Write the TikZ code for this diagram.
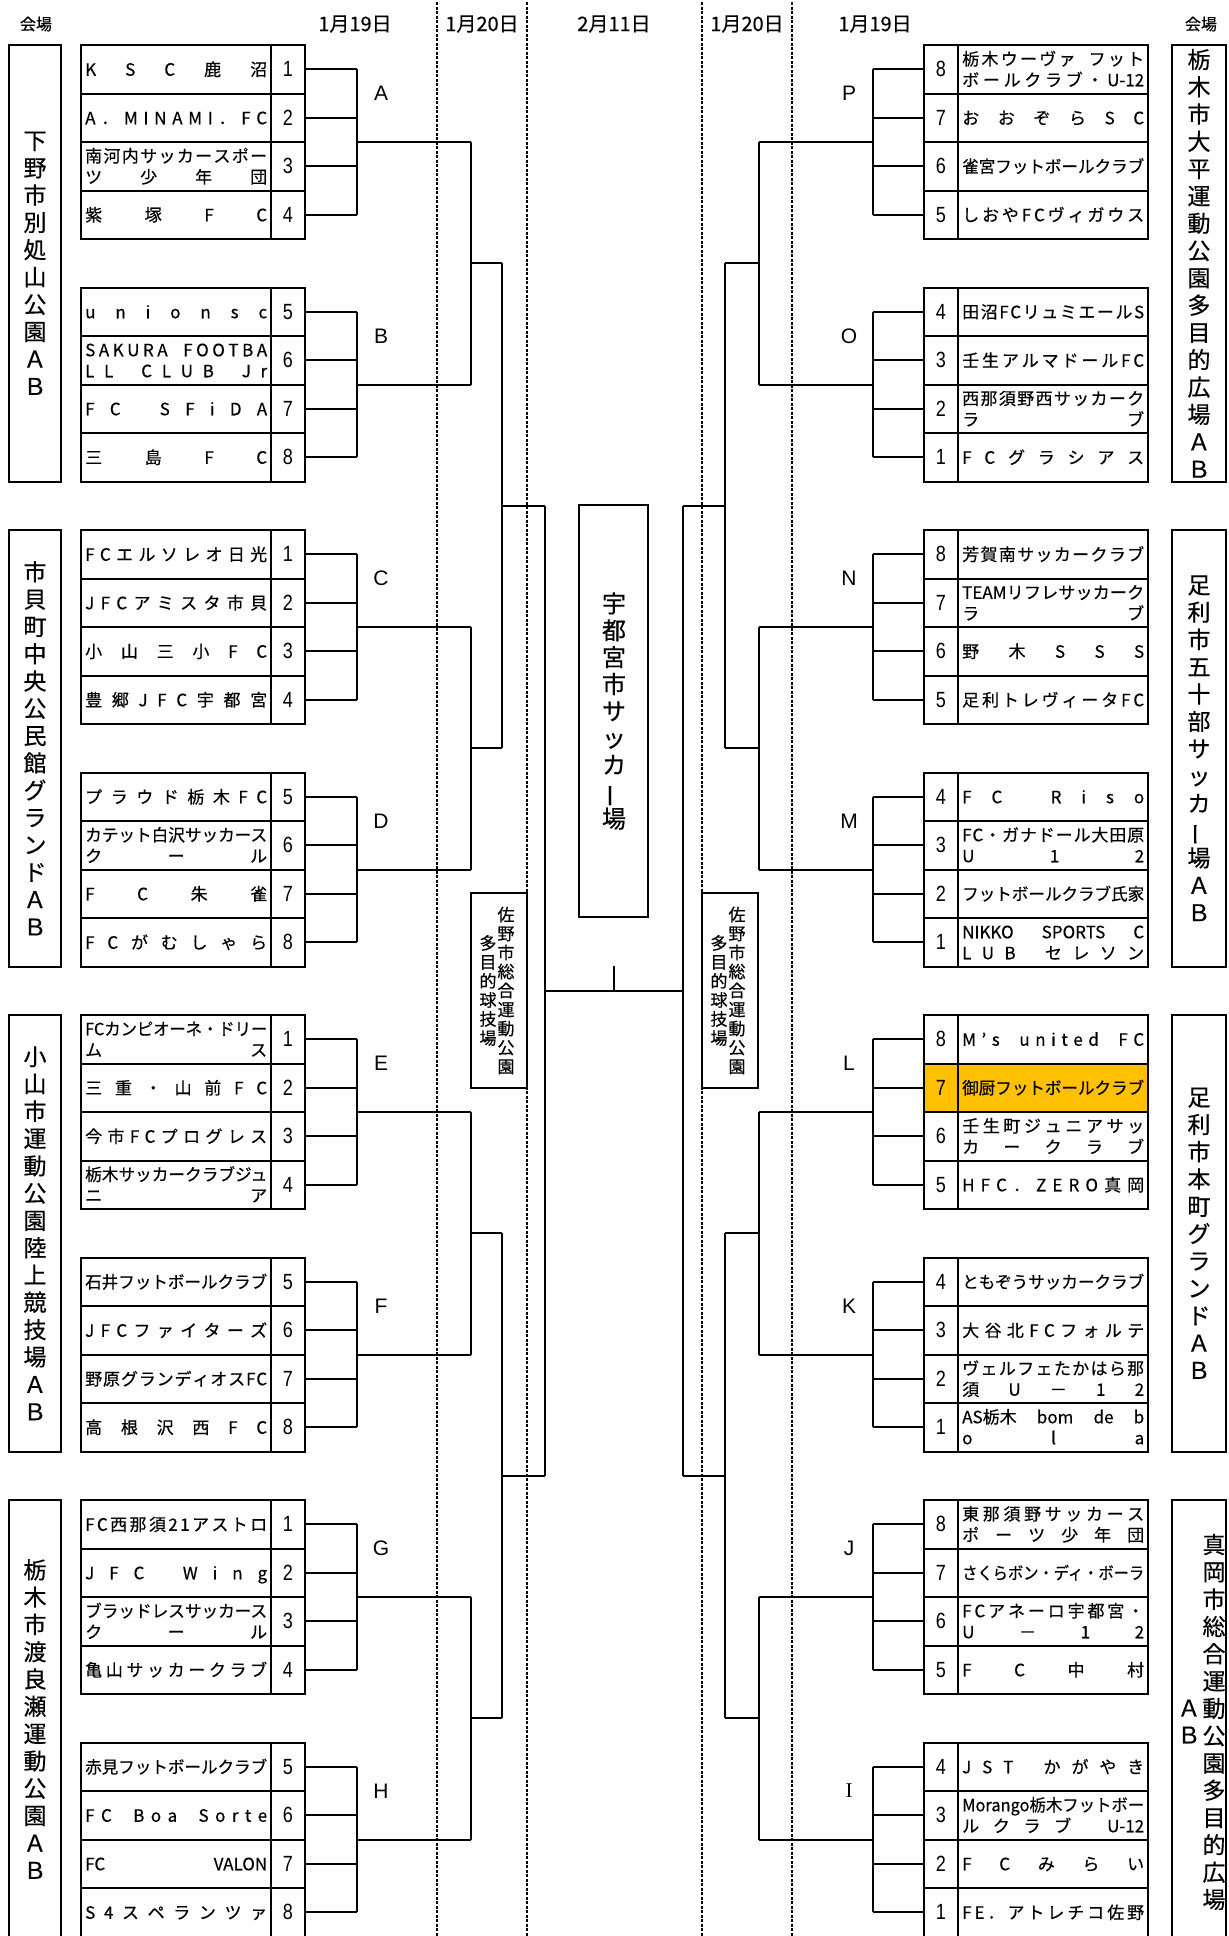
\documentclass[tikz,border=0pt]{standalone}
\usepackage{fontspec}
\usepackage{graphicx}
\setmainfont{Noto Sans CJK JP}[FakeBold=0.4]
\newfontfamily\arialf{Liberation Sans}
\newfontfamily\seriff{Liberation Serif}
\definecolor{hlc}{HTML}{FFC000}
\newbox\dlbox
\makeatletter
\newcommand\dline[2]{%
  \begingroup
  \def\dl@body{}\def\dl@nat{}%
  \@tfor\dl@t:=#2\do{%
    \ifx\dl@body\@empty
      \edef\dl@body{\unexpanded\expandafter{\dl@t}}%
    \else
      \edef\dl@body{\unexpanded\expandafter{\dl@body}\noexpand\hfill\unexpanded\expandafter{\dl@t}}%
    \fi
    \edef\dl@nat{\unexpanded\expandafter{\dl@nat}\unexpanded\expandafter{\dl@t}}%
  }%
  \setbox\dlbox\hbox{\dl@nat}%
  \ifdim\wd\dlbox>#1\relax
    \resizebox{#1}{\height}{\box\dlbox}%
  \else
    \hbox to #1{\dl@body}%
  \fi
  \endgroup
}
\makeatother
\newcommand\zs{\hbox to 0.5em{}}
\newcommand\vbar{\rotatebox[origin=c]{90}{ー}}
\tikzset{
  bx/.style={draw, line width=2pt},
  ln/.style={line width=2pt},
  dsh/.style={line width=1.2pt, dash pattern=on 3pt off 1.5pt},
  nm/.style={inner sep=0pt, anchor=west, font=\fontsize{17}{19}\selectfont, text height=15pt, text depth=2pt},
  num/.style={inner sep=0pt, font=\arialf\fontsize{22}{22}\selectfont},
  glab/.style={inner sep=0pt, font=\arialf\fontsize{21}{21}\selectfont},
  vtx/.style={inner sep=0pt, align=center, font=\fontsize{23}{27.3}\selectfont},
  stx/.style={inner sep=0pt, align=center, font=\fontsize{17}{19}\selectfont},
  ctx/.style={inner sep=0pt, align=center, font=\fontsize{24}{26.9}\selectfont},
  hdr/.style={inner sep=0pt, font=\fontsize{20}{20}\selectfont},
  hdrs/.style={inner sep=0pt, font=\fontsize{16}{16}\selectfont},
}
\newcommand\Lteam[4]{%
  \pgfmathsetmacro\yt{45+#1*48.5}%
  \pgfmathsetmacro\yc{\yt+24.25}%
  \draw[bx] (81,\yt) rectangle (271,\yt+48.5);
  \draw[bx] (271,\yt) rectangle (305,\yt+48.5);
  \node[num] (Ln#1) at (288,\yc) {\scalebox{0.82}[1]{#2}};
  \if\relax\detokenize{#4}\relax
    \node[nm] (Lt#1) at (85,\yc) {\dline{182pt}{#3}};
  \else
    \node[nm] (Lt#1) at (85,\yc-10.5) {\dline{182pt}{#3}};
    \node[nm] (Lu#1) at (85,\yc+10.5) {\dline{182pt}{#4}};
  \fi
  \coordinate (Le#1) at (305,\yc);
  \coordinate (Lb#1) at (357,\yc);
}
\newcommand\Rteam[5][white]{%
  \pgfmathsetmacro\yt{45+#2*48.5}%
  \pgfmathsetmacro\yc{\yt+24.25}%
  \draw[bx, fill=#1] (924,\yt) rectangle (958,\yt+48.5);
  \draw[bx, fill=#1] (958,\yt) rectangle (1148,\yt+48.5);
  \node[num] (Rn#2) at (941,\yc) {\scalebox{0.82}[1]{#3}};
  \if\relax\detokenize{#5}\relax
    \node[nm] (Rt#2) at (962,\yc) {\dline{182pt}{#4}};
  \else
    \node[nm] (Rt#2) at (962,\yc-10.5) {\dline{182pt}{#4}};
    \node[nm] (Ru#2) at (962,\yc+10.5) {\dline{182pt}{#5}};
  \fi
  \coordinate (Re#2) at (924,\yc);
  \coordinate (Rb#2) at (873,\yc);
}
\begin{document}
\begin{tikzpicture}[x=1pt,y=-1pt]
\useasboundingbox (0,0) rectangle (1229,1936);
\fill[white] (0,0) rectangle (1229,1936);

% header
\node[hdrs] (h1) at (36,24) {会場};
\node[hdr] (h2) at (355,24) {1月19日};
\node[hdr] (h3) at (482,24) {1月20日};
\node[hdr] (h4) at (614,24) {2月11日};
\node[hdr] (h5) at (747,24) {1月20日};
\node[hdr] (h6) at (875,24) {1月19日};
\node[hdrs] (h7) at (1201,24) {会場};

% dashed day separators
\foreach \xx in {437,527,702,792} \draw[dsh] (\xx,2) -- (\xx,1936);

% venue boxes
\foreach \vv in {0,1,2,3} {
  \draw[bx] (9,45+\vv*485) rectangle (61,45+\vv*485+436.5);
  \draw[bx] (1172,45+\vv*485) rectangle (1226,45+\vv*485+436.5);
}
\node[vtx] (vl1) at (35,263.25) {下\\野\\市\\別\\処\\山\\公\\園\\Ａ\\Ｂ};
\node[vtx] (vl2) at (35,748.25) {市\\貝\\町\\中\\央\\公\\民\\館\\グ\\ラ\\ン\\ド\\Ａ\\Ｂ};
\node[vtx] (vl3) at (35,1233.25) {小\\山\\市\\運\\動\\公\\園\\陸\\上\\競\\技\\場\\Ａ\\Ｂ};
\node[vtx] (vl4) at (35,1719) {栃\\木\\市\\渡\\良\\瀬\\運\\動\\公\\園\\Ａ\\Ｂ};
\node[vtx] (vr1) at (1199,263.25) {栃\\木\\市\\大\\平\\運\\動\\公\\園\\多\\目\\的\\広\\場\\Ａ\\Ｂ};
\node[vtx] (vr2) at (1199,748.25) {足\\利\\市\\五\\十\\部\\サ\\ッ\\カ\\\vbar\\場\\Ａ\\Ｂ};
\node[vtx] (vr3) at (1199,1233.25) {足\\利\\市\\本\\町\\グ\\ラ\\ン\\ド\\Ａ\\Ｂ};
\node[vtx] (vr4) at (1214,1722) {真\\岡\\市\\総\\合\\運\\動\\公\\園\\多\\目\\的\\広\\場};
\node[vtx] (vr4a) at (1189,1708) {Ａ};
\node[vtx] (vr4b) at (1189,1735) {Ｂ};

% left teams
\Lteam{0}{1}{KSC鹿沼}{}
\Lteam{1}{2}{A．MINAMI．FC}{}
\Lteam{2}{3}{南河内サッカースポー}{ツ少年団}
\Lteam{3}{4}{紫塚FC}{}
\Lteam{5}{5}{unionsc}{}
\Lteam{6}{6}{SAKURA\zs FOOTBA}{LL\zs CLUB\zs Jr}
\Lteam{7}{7}{FC\zs SFiDA}{}
\Lteam{8}{8}{三島FC}{}
\Lteam{10}{1}{FCエルソレオ日光}{}
\Lteam{11}{2}{JFCアミスタ市貝}{}
\Lteam{12}{3}{小山三小FC}{}
\Lteam{13}{4}{豊郷JFC宇都宮}{}
\Lteam{15}{5}{プラウド栃木FC}{}
\Lteam{16}{6}{カテット白沢サッカース}{クール}
\Lteam{17}{7}{FC朱雀}{}
\Lteam{18}{8}{FCがむしゃら}{}
\Lteam{20}{1}{FCカンピオーネ・ドリー}{ムス}
\Lteam{21}{2}{三重・山前FC}{}
\Lteam{22}{3}{今市FCプログレス}{}
\Lteam{23}{4}{栃木サッカークラブジュ}{ニア}
\Lteam{25}{5}{石井フットボールクラブ}{}
\Lteam{26}{6}{JFCファイターズ}{}
\Lteam{27}{7}{野原グランディオスFC}{}
\Lteam{28}{8}{高根沢西FC}{}
\Lteam{30}{1}{FC西那須21アストロ}{}
\Lteam{31}{2}{JFC\zs Wing}{}
\Lteam{32}{3}{ブラッドレスサッカース}{クール}
\Lteam{33}{4}{亀山サッカークラブ}{}
\Lteam{35}{5}{赤見フットボールクラブ}{}
\Lteam{36}{6}{FC\zs Boa\zs Sorte}{}
\Lteam{37}{7}{{FC}{VALON}}{}
\Lteam{38}{8}{S4スペランツァ}{}

% right teams
\Rteam{0}{8}{栃木ウーヴァ\zs フット}{ボールクラブ・{U-12}}
\Rteam{1}{7}{おおぞらSC}{}
\Rteam{2}{6}{雀宮フットボールクラブ}{}
\Rteam{3}{5}{しおやFCヴィガウス}{}
\Rteam{5}{4}{田沼FCリュミエールS}{}
\Rteam{6}{3}{壬生アルマドールFC}{}
\Rteam{7}{2}{西那須野西サッカーク}{ラブ}
\Rteam{8}{1}{FCグラシアス}{}
\Rteam{10}{8}{芳賀南サッカークラブ}{}
\Rteam{11}{7}{{TEAM}リフレサッカーク}{ラブ}
\Rteam{12}{6}{野木SSS}{}
\Rteam{13}{5}{足利トレヴィータFC}{}
\Rteam{15}{4}{FC\zs Riso}{}
\Rteam{16}{3}{FC・ガナドール大田原}{U12}
\Rteam{17}{2}{フットボールクラブ氏家}{}
\Rteam{18}{1}{{NIKKO}{SPORTS}{C}}{LUB\zs セレソン}
\Rteam{20}{8}{M’s\zs united\zs FC}{}
\Rteam[hlc]{21}{7}{御厨フットボールクラブ}{}
\Rteam{22}{6}{壬生町ジュニアサッ}{カークラブ}
\Rteam{23}{5}{HFC．ZERO真岡}{}
\Rteam{25}{4}{ともぞうサッカークラブ}{}
\Rteam{26}{3}{大谷北FCフォルテ}{}
\Rteam{27}{2}{ヴェルフェたかはら那}{須U－12}
\Rteam{28}{1}{{AS栃木}{bom}{de}{b}}{ola}
\Rteam{30}{8}{東那須野サッカース}{ポーツ少年団}
\Rteam{31}{7}{さくらボン・ディ・ボーラ}{}
\Rteam{32}{6}{FCアネーロ宇都宮・}{U－12}
\Rteam{33}{5}{FC中村}{}
\Rteam{35}{4}{JST\zs かがやき}{}
\Rteam{36}{3}{{Morango}栃木フットボー}{ルクラブ\zs{U-12}}
\Rteam{37}{2}{FCみらい}{}
\Rteam{38}{1}{FE．アトレチコ佐野}{}

% group brackets
\foreach \g/\ll in {0/A,1/B,2/C,3/D,4/E,5/F,6/G,7/H} {
  \pgfmathtruncatemacro\ra{5*\g}
  \pgfmathtruncatemacro\rb{5*\g+1}
  \pgfmathtruncatemacro\rc{5*\g+2}
  \pgfmathtruncatemacro\rd{5*\g+3}
  \pgfmathsetmacro\ym{45+(5*\g+2)*48.5}
  \pgfmathsetmacro\yl{45+(5*\g+1)*48.5}
  \foreach \r in {\ra,\rb,\rc,\rd} {
    \draw[ln] (Le\r) -- (Lb\r);
    \draw[ln] (Re\r) -- (Rb\r);
  }
  \draw[ln] (Lb\ra) -- (Lb\rd);
  \draw[ln] (Rb\ra) -- (Rb\rd);
  \coordinate (Lgm\g) at (357,\ym);
  \coordinate (Lgp\g) at (471,\ym);
  \coordinate (Rgm\g) at (873,\ym);
  \coordinate (Rgp\g) at (759,\ym);
  \draw[ln] (Lgm\g) -- (Lgp\g);
  \draw[ln] (Rgm\g) -- (Rgp\g);
  \node[glab] (La\g) at (381,\yl) {\ll};
}
\foreach \g/\rl in {0/P,1/O,2/N,3/M,4/L,5/K,6/J} {
  \pgfmathsetmacro\yl{45+(5*\g+1)*48.5}
  \node[glab] (Ra\g) at (849,\yl) {\rl};
}
\node[glab, font=\seriff\fontsize{21}{21}\selectfont] (Ra7) at (849,{45+36*48.5}) {I};

% pair connectors
\foreach \p in {0,1,2,3} {
  \pgfmathtruncatemacro\ga{2*\p}
  \pgfmathtruncatemacro\gb{2*\p+1}
  \pgfmathsetmacro\ym{45+(10*\p+4.5)*48.5}
  \draw[ln] (Lgp\ga) -- (Lgp\gb);
  \draw[ln] (Rgp\ga) -- (Rgp\gb);
  \coordinate (Lpm\p) at (471,\ym);
  \coordinate (Lpq\p) at (502,\ym);
  \coordinate (Rpm\p) at (759,\ym);
  \coordinate (Rpq\p) at (725,\ym);
  \draw[ln] (Lpm\p) -- (Lpq\p);
  \draw[ln] (Rpm\p) -- (Rpq\p);
}
% quad connectors
\foreach \q in {0,1} {
  \pgfmathtruncatemacro\pa{2*\q}
  \pgfmathtruncatemacro\pb{2*\q+1}
  \pgfmathsetmacro\ym{45+(20*\q+9.5)*48.5}
  \draw[ln] (Lpq\pa) -- (Lpq\pb);
  \draw[ln] (Rpq\pa) -- (Rpq\pb);
  \coordinate (Lqm\q) at (502,\ym);
  \coordinate (Lqs\q) at (545,\ym);
  \coordinate (Rqm\q) at (725,\ym);
  \coordinate (Rqs\q) at (683,\ym);
  \draw[ln] (Lqm\q) -- (Lqs\q);
  \draw[ln] (Rqm\q) -- (Rqs\q);
}
% semi-finals and final
\draw[ln] (Lqs0) -- (Lqs1);
\draw[ln] (Rqs0) -- (Rqs1);
\coordinate (Lsm) at (545,{45+19.5*48.5});
\coordinate (Rsm) at (683,{45+19.5*48.5});
\coordinate (fmid) at (614,{45+19.5*48.5});
\coordinate (ftop) at (614,966);
\draw[ln] (Lsm) -- (Rsm);
\draw[ln] (ftop) -- (fmid);

% semi-final venue boxes
\draw[bx, fill=white] (471,893) rectangle (527,1088);
\draw[bx, fill=white] (702,893) rectangle (758,1088);
\node[stx] (sl1) at (506,990.5) {佐\\野\\市\\総\\合\\運\\動\\公\\園};
\node[stx] (sl2) at (488,990.5) {多\\目\\的\\球\\技\\場};
\node[stx] (sr1) at (737,990.5) {佐\\野\\市\\総\\合\\運\\動\\公\\園};
\node[stx] (sr2) at (719,990.5) {多\\目\\的\\球\\技\\場};

% final venue box
\draw[bx] (579,505) rectangle (648,917);
\node[ctx] (fin) at (614,711) {宇\\都\\宮\\市\\サ\\ッ\\カ\\\vbar\\場};
\end{tikzpicture}
\end{document}
